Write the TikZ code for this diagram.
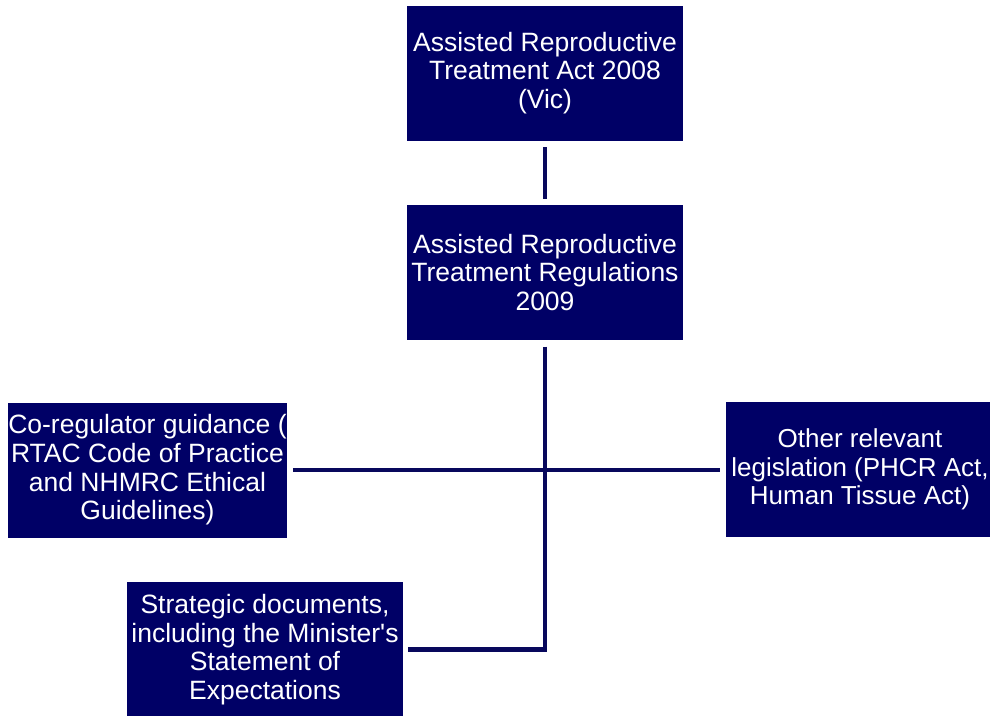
\documentclass[tikz,border=0pt]{standalone}
\usepackage{fontspec}
\setmainfont{Liberation Sans}
\definecolor{navy}{RGB}{0,0,102}
\definecolor{linenavy}{RGB}{8,8,92}
\begin{document}
\begin{tikzpicture}[x=1pt,y=-1pt,
  box/.style={fill=navy, draw=none, minimum width=276pt, minimum height=135pt,
    inner sep=0pt, text=white, align=center,
    font=\fontsize{26.5}{28.7}\selectfont},
  conn/.style={draw=linenavy, line width=4.5pt}]
\clip (0,0) rectangle (990,715);
\node[box] (b1) at (545,73) {Assisted Reproductive\\Treatment Act 2008\\(Vic)};
\node[box] (b2) at (545,272.5) {Assisted Reproductive\\Treatment Regulations\\2009};
\node[box] (b3) at (147.5,470) {Co-regulator guidance (\\RTAC Code of Practice\\and NHMRC Ethical\\Guidelines)};
\node[box, minimum width=268pt, font=\fontsize{26}{28.7}\selectfont] (b4) at (860,469.5) {Other relevant\\legislation (PHCR Act,\\Human Tissue Act)};
\node[box] (b5) at (265,649.5) {Strategic documents,\\including the Minister\textquotesingle s\\Statement of\\Expectations};
\draw[conn, shorten <=6.5pt, shorten >=6pt] (b1.south) -- (b2.north);
\draw[conn, shorten <=6pt, shorten >=6pt] (b3.east) -- (b4.west |- b3.east);
\draw[conn, shorten <=6.5pt, shorten >=5pt] (b2.south) |- (b5.east);
\end{tikzpicture}
\end{document}
